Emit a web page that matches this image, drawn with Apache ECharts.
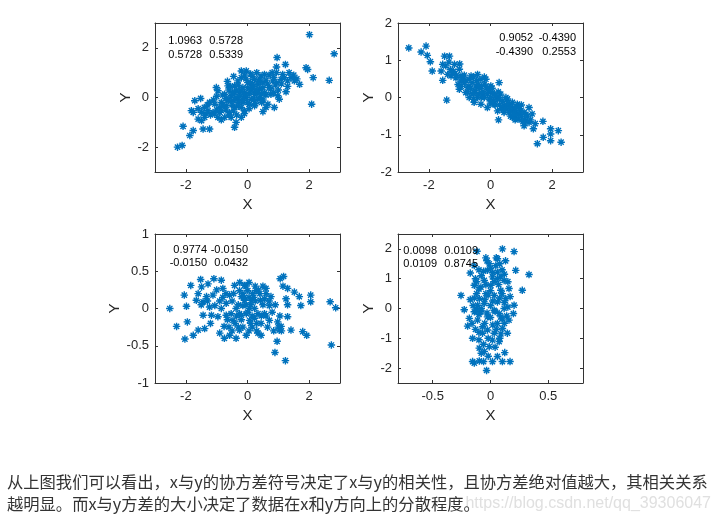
<!DOCTYPE html>
<html><head><meta charset="utf-8">
<script src="https://cdn.jsdelivr.net/npm/echarts@6/dist/echarts.min.js"></script>
<style>html,body{margin:0;padding:0;background:#fff}#c{width:718px;height:522px}</style>
</head><body><div id="c"></div>
<script>
// ---- data ----
const scatter1 = [[2.01,2.53],[2.81,1.76],[2.65,0.69],[2.08,-0.27],[2.13,0.8],[1.9,1.2],[1.95,1.13],[0.96,1.61],[1.23,1.33],[1.69,0.53],[1.25,0.23],[0.94,1.23],[0.94,1.0],[1.35,1.0],[1.41,0.8],[1.09,0.73],[1.52,0.67],[1.03,-0.07],[0.87,-0.4],[0.5,-0.57],[0.46,-0.2],[0.66,-0.27],[0.76,0.13],[0.55,0.93],[0.23,0.73],[0.12,0.33],[0.39,0.33],[-0.2,1.07],[-0.04,1.07],[-0.2,0.8],[-0.42,0.47],[-0.53,0.07],[-0.31,-0.07],[-0.1,0.2],[0.06,-0.27],[-0.1,-0.53],[-0.42,-0.4],[-0.37,-1.0],[-0.42,-1.2],[-0.74,-0.8],[-0.9,-0.6],[-0.96,-0.8],[-1.01,0.4],[-0.96,0.27],[-1.23,-0.2],[-1.06,-0.27],[-1.28,-0.53],[-1.39,-0.8],[-1.49,-0.93],[-1.23,-1.27],[-1.44,-1.27],[-1.6,-0.87],[-1.71,-0.13],[-1.52,-0.04],[-1.82,-0.53],[-1.76,-0.6],[-2.09,-1.16],[-1.76,-1.33],[-1.87,-1.53],[-2.27,-2.0],[-2.12,-1.93],[-0.69,-0.33],[-0.58,-0.6],[-0.85,-0.2],[-1.12,-0.6],[-0.74,0.13],[-0.63,0.47],[0.23,0.13],[0.34,-0.07],[0.5,0.6],[0.71,0.4],[0.82,0.67],[-0.31,0.67],[0.01,0.6],[-0.15,0.4],[-0.26,0.2],[0.12,-0.07],[-0.47,-0.13],[-0.04,0.0],[-0.85,-0.53],[-0.2,-0.8],[-0.53,-0.8],[-1.06,-0.67],[0.17,0.47],[0.44,0.87],[0.34,0.53],[-0.42,0.2],[-0.63,-0.13],[-0.15,-0.2],[0.23,-0.33],[0.55,0.2],[0.98,0.07],[1.14,0.93],[1.3,0.67],[-0.6,0.3],[-0.3,0.5],[-0.1,0.1],[0.1,0.6],[0.3,0.2],[0.5,0.4],[0.6,0.7],[0.7,0.9],[-0.5,-0.3],[-0.2,-0.4],[0.0,-0.2],[0.2,-0.1],[0.4,0.0],[-0.4,0.0],[-0.7,-0.5],[-0.9,-0.4],[-1.3,-0.3],[-1.1,-0.1],[-0.8,0.1],[0.9,0.5],[1.0,0.3],[1.2,0.8],[1.5,0.9],[0.8,1.0],[0.3,1.0],[-0.1,0.9],[-0.2,0.3],[0.1,0.3],[-0.3,-0.2],[0.0,0.4],[0.5,-0.1],[-0.6,-0.1],[-1.5,-0.6],[-1.4,-0.4],[0.6,0.1],[-1.2,-0.7],[-1.0,-0.5],[-0.8,-0.3],[-0.6,-0.7],[-0.45,-0.55],[-0.3,-0.35],[-0.15,-0.1],[0.05,0.15],[0.2,0.45],[0.35,0.65],[0.45,0.15],[0.65,0.55],[0.75,0.35],[0.85,0.8],[0.95,0.6],[-0.55,0.45],[-0.35,0.3],[-0.05,0.75],[0.15,0.85],[0.4,0.75],[-0.7,-0.05],[-0.5,0.2],[-0.25,0.05],[0.05,-0.45],[0.25,-0.25],[-0.85,-0.9],[-1.35,-0.65],[-1.6,-0.45],[1.1,0.55],[1.3,0.45],[-0.1,-0.65],[0.3,0.3],[-0.65,0.65],[0.6,-0.4],[0.85,0.2],[-1.0,0.05],[-0.35,-0.7],[0.1,0.95],[-0.45,0.85],[1.6,0.75]];
const scatter2 = [[-2.65,1.33],[-2.25,1.22],[-2.09,1.38],[-2.05,1.13],[-1.95,0.96],[-1.89,0.71],[-1.42,-0.07],[-1.55,0.89],[-1.49,1.11],[-1.33,1.11],[-1.6,0.71],[-1.55,0.46],[-1.17,0.89],[-1.01,0.76],[-1.28,0.58],[-1.01,0.22],[-0.85,0.4],[-0.42,0.62],[-0.69,0.0],[-0.53,0.13],[-0.31,-0.18],[-0.1,0.22],[0.12,0.09],[0.28,0.4],[0.23,-0.04],[0.44,-0.22],[0.55,-0.04],[0.71,-0.13],[0.87,-0.18],[0.26,-0.6],[0.82,-0.53],[1.09,-0.76],[1.25,-0.27],[1.35,-0.44],[1.39,-0.84],[1.14,-0.62],[1.7,-0.64],[1.52,-1.24],[1.71,-1.07],[1.95,-0.84],[1.95,-0.98],[1.95,-1.16],[2.2,-0.89],[2.29,-1.2],[-0.31,0.49],[-0.69,0.49],[-0.96,0.44],[-0.74,0.27],[-0.47,0.31],[-0.2,0.36],[0.01,0.31],[-0.26,0.09],[-0.04,-0.04],[0.12,-0.18],[0.33,0.09],[0.44,-0.4],[0.66,-0.36],[0.76,-0.27],[0.98,-0.36],[0.92,-0.58],[0.71,-0.53],[-1.39,0.62],[-1.12,0.53],[-0.53,-0.13],[-0.1,-0.27],[0.23,-0.36],[0.5,0.0],[-0.42,0.0],[-0.8,0.13],[-0.96,0.58],[-1.23,0.67],[-0.63,0.58],[-0.15,0.49],[0.06,0.13],[0.6,-0.18],[1.09,-0.4],[1.25,-0.67],[0.82,-0.4],[-0.9,0.5],[-0.7,0.3],[-0.6,0.4],[-0.5,0.2],[-0.4,0.1],[-0.3,0.3],[-0.2,0.0],[-0.1,0.1],[0.0,0.0],[0.1,-0.1],[0.2,0.0],[0.3,-0.2],[0.4,-0.1],[0.5,-0.3],[0.6,-0.25],[0.7,-0.35],[0.8,-0.3],[0.9,-0.45],[1.0,-0.5],[-1.1,0.6],[-1.3,0.75],[-0.8,0.45],[-0.35,0.25],[0.15,-0.2],[0.35,-0.3],[0.65,-0.5],[1.1,-0.6],[1.2,-0.5],[-0.6,0.1],[0.05,0.25],[-1.45,0.85],[-1.35,0.95],[-1.2,0.7],[-1.05,0.35],[-0.95,0.3],[-0.85,0.6],[-0.75,0.15],[-0.65,0.25],[-0.55,0.55],[-0.45,0.45],[-0.4,0.35],[-0.25,0.15],[-0.15,0.3],[-0.05,0.2],[0.05,-0.15],[0.15,0.05],[0.25,0.15],[0.3,-0.05],[0.4,-0.25],[0.45,-0.35],[0.55,-0.15],[0.6,-0.4],[0.75,-0.45],[0.85,-0.25],[0.95,-0.3],[1.05,-0.65],[1.15,-0.45],[1.3,-0.6],[1.45,-0.7],[-0.2,0.55],[-0.55,-0.05],[0.0,-0.15],[0.8,-0.6],[1.0,-0.2],[-1.0,0.9],[-0.3,0.0]];
const scatter3 = [[-2.52,0.0],[-2.3,-0.24],[-2.03,-0.41],[-1.95,-0.18],[-2.05,0.18],[-1.98,0.03],[-1.84,0.31],[-1.76,-0.36],[-1.6,-0.29],[-1.66,0.11],[-1.52,0.39],[-1.49,0.29],[-1.44,-0.09],[-1.39,-0.27],[-1.33,0.16],[-1.28,0.33],[-1.09,0.4],[-1.12,0.18],[-1.17,-0.09],[-1.06,0.04],[-0.85,0.38],[-0.8,0.27],[-0.9,-0.33],[-0.76,-0.24],[-0.69,0.07],[-0.58,0.18],[-0.58,-0.36],[-0.47,-0.16],[-0.37,0.0],[-0.37,-0.4],[-0.26,-0.29],[-0.1,0.31],[-0.04,-0.36],[-0.1,0.11],[-0.2,-0.09],[0.07,0.0],[0.17,0.2],[0.23,-0.13],[0.34,-0.33],[0.44,-0.36],[0.42,0.11],[0.6,0.27],[0.55,-0.07],[0.71,0.04],[0.76,0.16],[0.71,-0.16],[0.98,-0.18],[1.03,-0.29],[1.09,-0.24],[0.96,-0.44],[0.89,-0.59],[1.23,-0.7],[1.06,0.4],[1.17,0.43],[1.3,0.27],[1.25,0.13],[1.3,-0.11],[1.41,-0.29],[1.52,0.22],[1.68,0.16],[1.73,0.04],[1.79,-0.31],[1.92,-0.36],[2.05,0.18],[2.05,0.09],[2.68,0.09],[2.86,0.01],[2.72,-0.49],[-0.42,0.31],[-0.26,0.24],[0.01,0.24],[0.12,0.11],[-0.15,0.04],[0.23,0.0],[0.34,-0.07],[-0.04,-0.07],[-0.26,-0.07],[-0.53,-0.07],[-0.85,0.0],[-0.96,-0.11],[-0.69,-0.09],[0.07,-0.16],[0.44,-0.2],[0.55,0.13],[0.28,0.24],[-0.2,0.16],[-1.23,0.02],[-1.44,0.09],[-0.3,0.05],[-0.1,0.15],[0.0,-0.05],[0.1,0.05],[0.2,0.15],[-0.2,-0.15],[0.3,-0.2],[0.5,0.05],[0.6,-0.1],[-0.5,0.1],[-0.7,0.2],[-0.9,0.1],[-0.4,-0.2],[0.15,-0.25],[0.4,0.2],[-0.05,0.3],[0.25,0.3],[0.8,-0.05],[1.0,-0.25],[1.1,-0.3],[-1.3,0.1],[-1.5,0.05],[-0.6,-0.25],[0.05,-0.3],[0.7,0.1],[-0.35,-0.1],[-0.15,-0.25],[-0.05,0.05],[0.05,0.15],[0.15,-0.1],[0.25,0.1],[0.35,0.25],[0.45,-0.1],[0.6,0.2],[0.65,-0.25],[-0.5,-0.3],[-0.65,-0.15],[-0.8,0.15],[-1.0,0.25],[-1.2,-0.2],[-0.25,0.35],[0.05,0.35],[0.3,-0.3],[0.9,0.05],[1.05,-0.1],[1.15,0.3],[-0.45,0.2],[-0.15,0.2],[0.1,-0.2],[-1.6,0.2],[-0.75,-0.4],[0.5,0.3],[0.85,-0.3],[1.3,0.05],[-0.3,-0.25]];
const scatter4 = [[-0.034,-2.08],[-0.155,-1.78],[-0.14,-1.83],[-0.097,-1.76],[-0.06,-1.78],[0.017,-1.78],[0.06,-1.61],[0.123,-1.48],[0.103,-1.78],[0.169,-1.78],[-0.097,-1.33],[-0.155,-1.0],[-0.198,-0.59],[-0.183,-0.33],[-0.227,-0.04],[-0.255,0.44],[-0.175,0.3],[-0.14,0.78],[-0.175,1.19],[-0.14,1.44],[-0.117,1.92],[-0.04,1.7],[-0.011,1.5],[0.06,1.67],[0.103,2.0],[0.204,1.91],[0.218,1.28],[0.333,1.14],[0.275,0.61],[0.204,0.11],[0.198,-0.17],[0.16,-0.39],[0.146,-0.83],[0.075,-1.11],[0.017,-1.06],[-0.026,-0.72],[-0.069,-0.61],[-0.112,-0.39],[-0.083,-0.11],[-0.054,0.17],[-0.097,0.33],[-0.04,0.5],[0.003,0.78],[-0.054,0.94],[0.017,1.06],[0.06,1.22],[0.118,0.94],[0.089,0.61],[0.132,0.33],[0.06,0.22],[0.032,-0.06],[0.089,-0.28],[0.06,-0.5],[0.032,-0.83],[-0.011,-1.28],[-0.054,-1.44],[0.103,-0.67],[0.118,0.0],[0.16,0.67],[-0.026,1.28],[-0.083,0.72],[-0.112,0.11],[-0.069,-0.83],[-0.14,-0.11],[0.046,1.44],[0.089,1.06],[0.032,0.44],[-0.026,-0.28],[0.075,-0.17],[-0.08,0.0],[-0.05,0.3],[0.0,0.6],[0.03,0.9],[0.07,0.8],[0.1,0.5],[0.12,0.2],[-0.1,-0.2],[-0.05,-0.5],[0.0,-0.3],[0.05,-0.7],[0.08,-1.0],[-0.02,-1.0],[-0.1,-0.8],[0.02,1.2],[-0.03,1.6],[0.05,1.7],[0.1,1.3],[0.15,0.9],[-0.12,0.5],[-0.15,0.1],[0.0,0.1],[0.04,-0.1],[-0.06,-1.2],[0.12,-0.5],[-0.13,1.0],[-0.1,1.3],[-0.08,1.1],[-0.12,0.9],[-0.1,0.65],[-0.14,0.35],[-0.12,-0.05],[-0.16,-0.5],[-0.13,-0.7],[-0.1,-1.05],[-0.08,-1.5],[-0.02,-1.6],[0.04,-1.3],[0.09,-0.85],[0.14,-0.25],[0.15,0.05],[0.17,0.4],[0.08,0.35],[0.02,0.25],[-0.02,0.45],[0.06,1.0],[0.12,1.15],[0.08,1.5],[0.0,1.35],[-0.06,1.25],[0.13,1.6],[0.02,-0.55],[-0.03,-0.15],[0.1,-0.35],[-0.04,0.8]];

const xTicksWide = [-2, 0, 2];
const xTicksNarrow = [-0.5, 0, 0.5];
const yTicks1 = [-2, 0, 2];
const yTicks2 = [-2, -1, 0, 1, 2];
const yTicks3 = [-1, -0.5, 0, 0.5, 1];
const yTicks4 = [-2, -1, 0, 1, 2];

const cov1 = [["1.0963", "0.5728"], ["0.5728", "0.5339"]];
const cov2 = [["0.9052", "-0.4390"], ["-0.4390", "0.2553"]];
const cov3 = [["0.9774", "-0.0150"], ["-0.0150", "0.0432"]];
const cov4 = [["0.0098", "0.0109"], ["0.0109", "0.8745"]];

const line1 = "从上图我们可以看出，x与y的协方差符号决定了x与y的相关性，且协方差绝对值越大，其相关关系";
const line2 = "越明显。而x与y方差的大小决定了数据在x和y方向上的分散程度。";
const watermark = "https://blog.csdn.net/qq_39306047";

// ---- layout ----
const AX = '#333333';
const FONT = 'Liberation Sans, Arial, sans-serif';
const grids = [
  {left:155, top:23, width:185, height:149},
  {left:398, top:23, width:185, height:149},
  {left:155, top:234, width:185, height:149},
  {left:398, top:234, width:185, height:149}
];
const ranges = [
  {x:[-3,3], xt:xTicksWide, y:[-3,3], yt:yTicks1},
  {x:[-3,3], xt:xTicksWide, y:[-2,2], yt:yTicks2},
  {x:[-3,3], xt:xTicksWide, y:[-1,1], yt:yTicks3},
  {x:[-0.8,0.8], xt:xTicksNarrow, y:[-2.5,2.5], yt:yTicks4}
];
const datas = [scatter1, scatter2, scatter3, scatter4];

const xAxis = [], yAxis = [], series = [];
ranges.forEach((r, i) => {
  xAxis.push({gridIndex:i, type:'value', min:r.x[0], max:r.x[1], position:'bottom',
    name:'X', nameLocation:'middle', nameGap:25,
    nameTextStyle:{color:'#262626', fontSize:15, fontFamily:FONT},
    axisLine:{show:true, onZero:false, lineStyle:{color:AX, width:1}},
    axisTick:{show:true, inside:true, length:3, customValues:r.xt, lineStyle:{color:AX}},
    axisLabel:{show:true, color:'#262626', fontSize:13, fontFamily:FONT, margin:7,
      customValues:r.xt, formatter: v => String(v)},
    splitLine:{show:false}});
  xAxis.push({gridIndex:i, type:'value', min:r.x[0], max:r.x[1], position:'top',
    axisLine:{show:true, onZero:false, lineStyle:{color:AX, width:1}},
    axisTick:{show:true, inside:true, length:3, customValues:r.xt, lineStyle:{color:AX}},
    axisLabel:{show:false}, splitLine:{show:false}});
  yAxis.push({gridIndex:i, type:'value', min:r.y[0], max:r.y[1], position:'left',
    name:'Y', nameLocation:'middle', nameGap:22, nameRotate:90,
    nameTextStyle:{color:'#262626', fontSize:15, fontFamily:FONT},
    axisLine:{show:true, onZero:false, lineStyle:{color:AX, width:1}},
    axisTick:{show:true, inside:true, length:3, customValues:r.yt, lineStyle:{color:AX}},
    axisLabel:{show:true, color:'#262626', fontSize:13, fontFamily:FONT, margin:6,
      customValues:r.yt, formatter: v => String(v)},
    splitLine:{show:false}});
  yAxis.push({gridIndex:i, type:'value', min:r.y[0], max:r.y[1], position:'right',
    axisLine:{show:true, onZero:false, lineStyle:{color:AX, width:1}},
    axisTick:{show:true, inside:true, length:3, customValues:r.yt, lineStyle:{color:AX}},
    axisLabel:{show:false}, splitLine:{show:false}});
  series.push({type:'scatter', xAxisIndex:2*i, yAxisIndex:2*i, data:datas[i],
    symbol:'path://M5 0L5 10M0 5L10 5M1.5 1.5L8.5 8.5M1.5 8.5L8.5 1.5',
    symbolSize:7.5, silent:true, clip:true,
    itemStyle:{color:'rgba(0,0,0,0)', borderColor:'#0072BD', borderWidth:1.4, opacity:1}});
});

// covariance text: right edges of the two columns, and row centre lines
const covPos = [
  {x:[202,243], y:[41,55]},
  {x:[533,576], y:[38,52]},
  {x:[207,248], y:[250,263]},
  {x:[437,478], y:[251,264]}
];
const covs = [cov1, cov2, cov3, cov4];
const graphic = [];
covs.forEach((c, i) => {
  const p = covPos[i];
  for (let r = 0; r < 2; r++) for (let k = 0; k < 2; k++) {
    graphic.push({type:'text', x:p.x[k], y:p.y[r], z:10,
      style:{text:c[r][k], fill:'#000', font:'11px ' + FONT, textAlign:'right', textVerticalAlign:'middle'}});
  }
});
const CJK = '16.3px "Noto Sans CJK SC", sans-serif';
graphic.push({type:'text', x:7, y:482, style:{text:line1, fill:'#333', font:CJK, textVerticalAlign:'middle'}});
graphic.push({type:'text', x:711, y:504, z:1, style:{text:watermark, fill:'#e0e0e0', font:'16px ' + FONT, textAlign:'right', textVerticalAlign:'middle'}});
graphic.push({type:'text', x:7, y:504, z:2, style:{text:line2, fill:'#333', font:CJK, textVerticalAlign:'middle'}});

const chart = echarts.init(document.getElementById('c'), null, {renderer:'canvas'});
chart.setOption({animation:false, backgroundColor:'#fff', grid:grids, xAxis, yAxis, series, graphic});
</script></body></html>
